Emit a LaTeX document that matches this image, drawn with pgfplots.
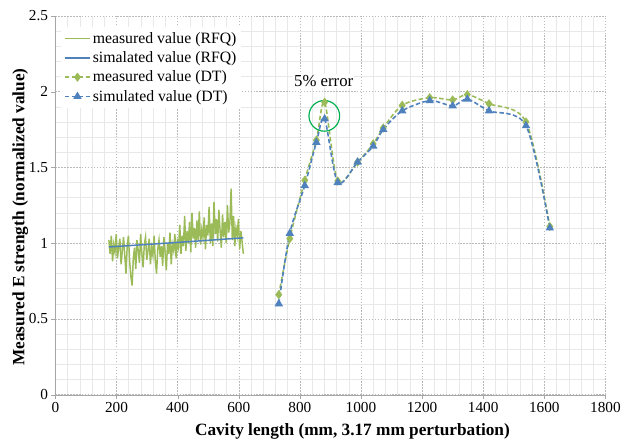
\documentclass[border=0pt]{standalone}
\usepackage{fontspec}
\setmainfont{Liberation Serif}
\usepackage{pgfplots}
\pgfplotsset{compat=1.18}
\definecolor{rfqgreen}{RGB}{155,187,89}
\definecolor{dtblue}{RGB}{79,129,189}
\definecolor{circgreen}{RGB}{0,176,80}
\begin{document}
\begin{tikzpicture}
\begin{axis}[
  scale only axis,
  width=556bp, height=383bp,
  xmin=0, xmax=1800, ymin=0, ymax=2.5,
  xtick distance=200, ytick distance=0.5,
  minor x tick num=4, minor y tick num=4,
  grid=both,
  major grid style={gray!55, dash pattern=on 1.5pt off 1.5pt, line width=0.5pt},
  minor grid style={gray!18, line width=0.5pt},
  axis lines=left,
  axis line style={-, gray!70},
  tick align=outside,
  major tick length=4bp, minor tick length=0pt,
  tick style={gray!70},
  /pgf/number format/assume math mode=true,
  /pgf/number format/1000 sep={},
  ticklabel style={font=\fontsize{15.5}{15.5}\selectfont},
  xlabel={Cavity length (mm, 3.17 mm perturbation)},
  ylabel={Measured E strength (normalized value)},
  label style={font=\fontsize{17.5}{17.5}\selectfont\bfseries},
  xlabel style={at={(rel axis cs:0.54,-0.098)}, anchor=center},
  ylabel style={at={(rel axis cs:-0.064,0.469)}, anchor=center},
  legend style={at={(rel axis cs:0.01,0.97)}, anchor=north west, draw=none, fill=white,
    font=\fontsize{16}{16}\selectfont, row sep=3pt, inner sep=3pt},
  legend cell align=left,
  legend image code/.code={\draw[mark repeat=2,mark phase=2,#1] plot coordinates {(0cm,0cm) (0.45cm,0cm) (0.9cm,0cm)};},
]
\addplot[rfqgreen, line width=1.5pt, no marks] coordinates {
(175,1.02) (179,0.93) (183,1.05) (187,0.88) (191,0.99) (195,0.94) (199,1.06) (203,0.90)
(207,0.97) (211,1.03) (215,0.86) (219,0.95) (223,1.04) (227,0.92) (231,0.80) (235,0.98)
(239,1.05) (243,0.88) (247,0.78) (251,0.72) (255,0.90) (259,0.97) (263,0.83) (267,1.02)
(271,0.95) (275,0.87) (279,1.06) (283,0.93) (287,0.84) (291,0.99) (295,1.04) (299,0.89)
(303,0.95) (307,1.03) (311,0.86) (315,0.97) (319,0.92) (323,1.05) (327,0.88) (331,0.80)
(335,0.96) (339,1.02) (343,0.91) (347,0.98) (351,0.85) (355,1.04) (359,0.94) (363,0.82)
(367,1.00) (371,0.93) (375,1.07) (379,0.86) (383,0.99) (387,0.95) (391,1.06) (395,0.90)
(399,1.01) (403,0.97) (407,1.12) (411,0.93) (415,1.05) (419,0.98) (423,1.18) (427,0.95)
(431,1.08) (435,1.00) (439,1.14) (443,0.94) (447,1.20) (451,1.03) (455,1.10) (459,0.97)
(463,1.15) (467,1.02) (471,1.21) (475,0.99) (479,1.09) (483,1.04) (487,1.17) (491,0.96)
(495,1.12) (499,1.05) (503,1.24) (507,1.00) (511,1.13) (515,0.98) (519,1.27) (523,1.06)
(527,1.16) (531,1.01) (535,1.22) (539,1.08) (543,0.97) (547,1.19) (551,1.04) (555,1.14)
(559,1.00) (563,1.25) (567,1.07) (571,1.13) (575,1.36) (579,1.02) (583,1.18) (587,0.98)
(591,1.10) (595,1.05) (599,1.16) (603,0.96) (607,1.08) (611,1.01) (615,0.93)
};
\addplot[dtblue, line width=1.5pt, no marks] coordinates {(175,0.975) (400,1.005) (615,1.035)};
\addplot[rfqgreen, line width=1.6pt, dash pattern=on 4.5pt off 2.5pt, smooth, tension=0.5,
  mark=diamond*, mark size=3.4pt, mark options={solid, fill=rfqgreen}] coordinates {
(731,0.66) (767,1.03) (816,1.415) (854,1.68) (881,1.93) (924,1.41) (989,1.535) (1040,1.655)
(1073,1.76) (1135,1.91) (1225,1.96) (1300,1.945) (1348,1.98) (1419,1.92) (1540,1.80) (1618,1.11)
};
\addplot[dtblue, line width=1.6pt, dash pattern=on 4.5pt off 2.5pt, smooth, tension=0.5,
  mark=triangle*, mark size=3.4pt, mark options={solid, fill=dtblue}] coordinates {
(731,0.60) (767,1.065) (816,1.38) (854,1.665) (881,1.82) (924,1.40) (989,1.535) (1040,1.64)
(1073,1.75) (1135,1.873) (1225,1.94) (1300,1.906) (1348,1.95) (1419,1.873) (1540,1.775) (1618,1.10)
};
\legend{measured value (RFQ), simalated value (RFQ), measured value (DT), simulated value (DT)}
\draw[circgreen, line width=1.2pt] (axis cs:880,1.84) circle[radius=15.5bp];
\node[fill=white, inner sep=1pt, font=\fontsize{17}{17}\selectfont] at (axis cs:878,2.07) {5\% error};
\end{axis}
\path (current axis.south west) +(-56bp,-49.5bp) (current axis.north east) +(12bp,16bp);
\end{tikzpicture}
\end{document}
